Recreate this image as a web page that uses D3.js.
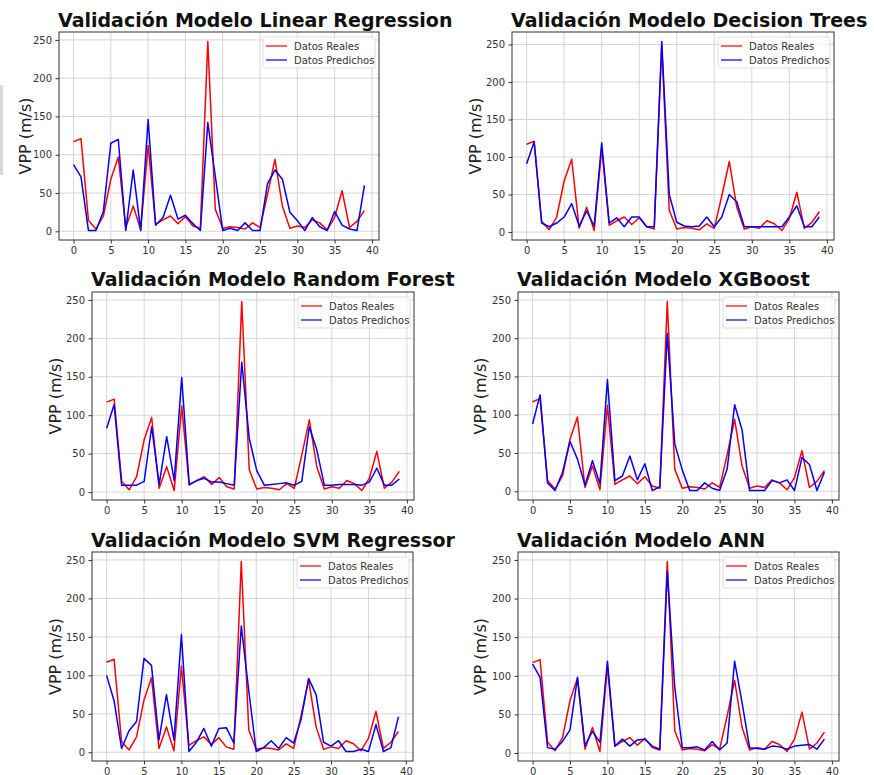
<!DOCTYPE html>
<html>
<head>
<meta charset="utf-8">
<script src="https://cdn.jsdelivr.net/npm/d3@7"></script>
<style>
  body { margin: 0; background: #fff; }
  svg { display: block; font-family: "DejaVu Sans", sans-serif; }
</style>
</head>
<body>
<svg id="chart" width="874" height="775"></svg>
<script>
// valores reales (iguales en las 6 graficas)
const reales = [117, 121, 14, 3, 20, 68, 97, 5, 33, 2, 112, 9, 15, 20, 10, 19, 7, 4, 248, 29,
  4, 6, 5, 3, 11, 5, 48, 94, 33, 4, 7, 5, 15, 11, 2, 18, 53, 5, 13, 27];

// predicciones por modelo
const predLinear = [87, 71, 1, 1, 26, 115, 120, 1, 80, 1, 146, 8, 18, 47, 16, 21, 10, 1, 142, 72,
  1, 4, 1, 11, 1, 1, 62, 80, 68, 25, 14, 1, 18, 6, 1, 26, 8, 3, 1, 60];
const predTrees = [91, 120, 12, 7, 12, 20, 38, 8, 28, 8, 119, 12, 19, 7, 20, 20, 7, 7, 254, 50,
  13, 8, 7, 8, 20, 7, 20, 50, 40, 7, 7, 7, 7, 7, 7, 20, 35, 7, 7, 20];
const predForest = [83, 114, 9, 9, 9, 14, 85, 10, 72, 15, 149, 10, 15, 18, 13, 13, 11, 9, 169, 70,
  28, 9, 10, 11, 12, 9, 14, 85, 55, 9, 9, 10, 10, 10, 9, 13, 31, 9, 9, 17];
const predXGB = [88, 126, 11, 1, 25, 65, 42, 8, 40, 10, 146, 14, 20, 46, 15, 36, 1, 6, 206, 62,
  28, 1, 1, 11, 4, 1, 29, 113, 80, 1, 1, 1, 14, 11, 15, 1, 44, 35, 1, 25];
const predSVM = [100, 67, 5, 28, 40, 122, 113, 16, 75, 16, 153, 1, 13, 31, 8, 31, 32, 12, 164, 80,
  1, 6, 15, 5, 19, 12, 43, 96, 75, 13, 8, 15, 1, 1, 4, 1, 36, 1, 6, 46];
const predANN = [115, 98, 7, 5, 15, 30, 98, 10, 28, 14, 119, 9, 18, 9, 17, 18, 9, 5, 235, 85,
  7, 7, 8, 4, 15, 4, 13, 119, 65, 7, 6, 5, 9, 8, 5, 9, 10, 11, 5, 18];

const titulos = ["Validación Modelo Linear Regression", "Validación Modelo Decision Trees",
  "Validación Modelo Random Forest", "Validación Modelo XGBoost",
  "Validación Modelo SVM Regressor", "Validación Modelo ANN"];
const predicciones = [predLinear, predTrees, predForest, predXGB, predSVM, predANN];
const xTicks = [0, 5, 10, 15, 20, 25, 30, 35, 40];
const yTicks = [0, 50, 100, 150, 200, 250];
const leyenda = ["Datos Reales", "Datos Predichos"];

// posicion de cada panel (left, top, width, height, baseline del titulo, x del ylabel)
const paneles = [
  { x: 59, y: 32, w: 320, h: 208, ty: 27, lx: 25 },
  { x: 512, y: 32, w: 322, h: 208, ty: 27, lx: 475 },
  { x: 92, y: 292, w: 322, h: 208, ty: 286, lx: 55 },
  { x: 518, y: 292, w: 321, h: 208, ty: 286, lx: 480 },
  { x: 92, y: 552, w: 321, h: 209, ty: 547, lx: 55 },
  { x: 518, y: 552, w: 321, h: 209, ty: 547, lx: 480 }
];

const svg = d3.select("#chart");

// resto gris en el borde izquierdo
svg.append("rect").attr("x", 0).attr("y", 85).attr("width", 3).attr("height", 90)
  .style("fill", "#d8d8d8");

function dibujarPanel(p, titulo, pred) {
  const n = reales.length;
  const xScale = d3.scaleLinear().domain([-0.05 * (n - 1), (n - 1) * 1.05]).range([0, p.w]);
  const lo = Math.min(d3.min(reales), d3.min(pred));
  const hi = Math.max(d3.max(reales), d3.max(pred));
  const pad = (hi - lo) * 0.05;
  const yScale = d3.scaleLinear().domain([lo - pad, hi + pad]).range([p.h, 0]);

  const g = svg.append("g").attr("transform", "translate(" + p.x + "," + p.y + ")");

  // grid
  g.append("g").selectAll("line").data(xTicks).enter().append("line")
    .attr("x1", d => xScale(d)).attr("x2", d => xScale(d))
    .attr("y1", 0).attr("y2", p.h)
    .style("stroke", "#d6d6d6").style("stroke-width", 1);
  g.append("g").selectAll("line").data(yTicks).enter().append("line")
    .attr("x1", 0).attr("x2", p.w)
    .attr("y1", d => yScale(d)).attr("y2", d => yScale(d))
    .style("stroke", "#d6d6d6").style("stroke-width", 1);

  // ejes
  const ax = g.append("g").attr("transform", "translate(0," + p.h + ")")
    .call(d3.axisBottom(xScale).tickValues(xTicks).tickSize(3.5).tickPadding(3.5));
  const ay = g.append("g")
    .call(d3.axisLeft(yScale).tickValues(yTicks).tickSize(3.5).tickPadding(3.5));
  [ax, ay].forEach(a => {
    a.select(".domain").remove();
    a.selectAll("line").style("stroke", "#333");
    a.selectAll("text").style("font-size", "10px").style("fill", "#333")
      .style("font-family", "DejaVu Sans");
  });

  const line = d3.line()
    .x((d, i) => xScale(i))
    .y(d => yScale(d));

  g.append("path").datum(reales).attr("d", line)
    .style("fill", "none").style("stroke", "#ff0000").style("stroke-width", 1.5)
    .style("stroke-linejoin", "round");
  g.append("path").datum(pred).attr("d", line)
    .style("fill", "none").style("stroke", "#0000ff").style("stroke-width", 1.5)
    .style("stroke-linejoin", "round");

  // marco
  g.append("rect").attr("width", p.w).attr("height", p.h)
    .style("fill", "none").style("stroke", "#333").style("stroke-width", 1);

  // leyenda
  const lw = 112, lh = 31;
  const lg = g.append("g").attr("transform", "translate(" + (p.w - lw - 4) + ",5)");
  lg.append("rect").attr("width", lw).attr("height", lh).attr("rx", 2)
    .style("fill", "#fff").style("fill-opacity", 0.8)
    .style("stroke", "#ddd").style("stroke-width", 1);
  ["#ff3030", "#3030ff"].forEach((c, i) => {
    lg.append("line").attr("x1", 3).attr("x2", 24)
      .attr("y1", 9 + i * 14).attr("y2", 9 + i * 14)
      .style("stroke", c).style("stroke-width", 1.5);
    lg.append("text").attr("x", 31).attr("y", 9 + i * 14).attr("dy", "0.35em")
      .style("font-size", "10px").style("fill", "#333").text(leyenda[i]);
  });

  // titulo
  svg.append("text").attr("x", p.x - 1).attr("y", p.ty)
    .style("font-size", "19px").style("font-weight", "bold").style("fill", "#111")
    .text(titulo);

  // ylabel
  svg.append("text")
    .attr("transform", "translate(" + p.lx + "," + (p.y + p.h / 2) + ") rotate(-90)")
    .attr("text-anchor", "middle").attr("dy", "0.35em")
    .style("font-size", "16px").style("fill", "#222")
    .text("VPP (m/s)");
}

paneles.forEach((p, i) => dibujarPanel(p, titulos[i], predicciones[i]));
</script>
</body>
</html>
